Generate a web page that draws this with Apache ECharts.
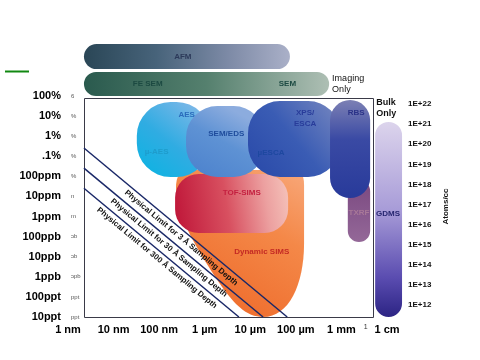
<!DOCTYPE html>
<html><head><meta charset="utf-8">
<script src="https://cdn.jsdelivr.net/npm/echarts@6/dist/echarts.min.js"></script>
<style>html,body{margin:0;padding:0;background:#fff}#c{width:480px;height:360px}</style>
</head><body><div id="c"></div>
<script>
// ---- axis ticks (log10 units) ----
const sizeTicks = [-9, -8, -7, -6, -5, -4, -3, -2.47, -2];
const sizeLabels = ['1 nm', '10 nm', '100 nm', '1 µm', '10 µm', '100 µm', '1 mm', '1', '1 cm'];
const concTicks = [0, -1, -2, -3, -4, -5, -6, -7, -8, -9, -10, -11];
const concLabels = ['100%', '10%', '1%', '.1%', '100ppm', '10ppm', '1ppm', '100ppb', '10ppb', '1ppb', '100ppt', '10ppt'];
const concFragments = ['6', '%', '%', '%', '%', 'n', 'm', 'ɔb', 'ɔb', 'ɔpb', 'ppt', 'ppt'];
const atomTicks = [22, 21, 20, 19, 18, 17, 16, 15, 14, 13, 12];
const atomLabels = ['1E+22', '1E+21', '1E+20', '1E+19', '1E+18', '1E+17', '1E+16', '1E+15', '1E+14', '1E+13', '1E+12'];
const atomShift = 22.4; // log atoms/cc at the 100% line of the chart

// ---- techniques: lateral resolution range (log m) x detection range (log fraction) ----
const techNames    = ['AFM', 'SEM', 'Dynamic SIMS', 'TOF-SIMS', 'AES', 'SEM/EDS', 'XPS/ESCA', 'TXRF', 'RBS', 'GDMS'];
const techSizeMin  = [-8.65, -8.65, -6.63, -6.65, -7.49, -6.41, -5.05, -2.86, -3.25, -2.26];
const techSizeMax  = [-4.13, -3.27, -3.82, -4.17, -5.88, -4.68, -3.03, -2.37, -2.37, -1.67];
const techConcMin  = [1.34, 0.00, -11.0, -6.82, -4.03, -4.03, -4.03, -7.27, -5.08, -11.0];
const techConcMax  = [2.59, 1.20, -3.68, -3.88, -0.30, -0.50, -0.25, -4.18, -0.20, -1.29];

// ---- physical limit lines ----
const limitNames = ['Physical Limit for 3 Å Sampling Depth', 'Physical Limit for 30 Å Sampling Depth', 'Physical Limit for 300 Å Sampling Depth'];
const limitStartSize = [-8.65, -8.65, -8.65];
const limitStartConc = [-2.59, -3.59, -4.59];
const limitEndSize = [-4.19, -4.72, -5.25];
const limitEndConc = [-11, -11, -11];

// ---- plot frame ----
const frameSize = [-8.65, -2.31];
const frameConc = [-11, -0.1];

// ================= styles =================
const G = echarts.graphic;
const FONT = '"Liberation Sans", Arial, sans-serif';
const techStyle = {
  'AFM': { shape: 'pill', fill: new G.LinearGradient(0, 0, 1, 0, [{offset: 0, color: '#2a4656'}, {offset: 0.35, color: '#47637a'}, {offset: 0.7, color: '#7d8aa6'}, {offset: 1, color: '#aab0c8'}]),
    labels: [{t: 'AFM', fx: 0.48, fy: 0.52, c: '#2c3a5a'}] },
  'SEM': { shape: 'pill', fill: new G.LinearGradient(0, 0, 1, 0, [{offset: 0, color: '#2a5a4e'}, {offset: 0.5, color: '#55806e'}, {offset: 1, color: '#aebfb4'}]),
    labels: [{t: 'FE SEM', fx: 0.26, fy: 0.5, c: '#1c4a42'}, {t: 'SEM', fx: 0.83, fy: 0.5, c: '#1c4a42'}],
    note: {t: 'Imaging\nOnly', side: 'right', weight: 'normal'} },
  'Dynamic SIMS': { shape: 'drop', fill: new G.LinearGradient(1, 0, 0.3, 1, [{offset: 0, color: '#f8a87a'}, {offset: 0.4, color: '#f48848'}, {offset: 1, color: '#ee6a2a'}]),
    labels: [{t: 'Dynamic SIMS', fx: 0.67, fy: 0.56, c: '#c42a24'}] },
  'TOF-SIMS': { shape: 'round', r: 0.4, fill: new G.LinearGradient(0, 0.6, 1, 0.3, [{offset: 0, color: '#c0183a'}, {offset: 0.45, color: '#d85060'}, {offset: 0.8, color: '#eca0a0'}, {offset: 1, color: '#f4c0b8'}]),
    labels: [{t: 'TOF-SIMS', fx: 0.59, fy: 0.32, c: '#c42040'}] },
  'AES': { shape: 'round', r: 0.46, fill: new G.LinearGradient(0, 1, 0.8, 0, [{offset: 0, color: '#08b4e2'}, {offset: 0.5, color: '#30ace2'}, {offset: 1, color: '#80b8e8'}]),
    labels: [{t: 'AES', fx: 0.68, fy: 0.17, c: '#2a6cbc'}, {t: 'µ-AES', fx: 0.27, fy: 0.67, c: '#1e9ccc'}] },
  'SEM/EDS': { shape: 'round', r: 0.44, fill: new G.LinearGradient(0, 1, 0.5, 0, [{offset: 0, color: '#4a80cc'}, {offset: 0.6, color: '#5e92d4'}, {offset: 1, color: '#8cacde'}]),
    labels: [{t: 'SEM/EDS', fx: 0.51, fy: 0.39, c: '#1e4c9c'}] },
  'XPS/ESCA': { shape: 'round', r: 0.42, fill: new G.LinearGradient(0, 1, 1, 0, [{offset: 0, color: '#2848a8'}, {offset: 0.5, color: '#3a5cb4'}, {offset: 1, color: '#7888c0'}]),
    labels: [{t: 'XPS/', fx: 0.62, fy: 0.16, c: '#283c9a'}, {t: 'ESCA', fx: 0.62, fy: 0.30, c: '#283c9a'}, {t: 'µESCA', fx: 0.25, fy: 0.68, c: '#1e48a0'}] },
  'TXRF': { shape: 'capsule', fill: new G.LinearGradient(0, 0, 0, 1, [{offset: 0, color: '#7a4880'}, {offset: 1, color: '#946898'}]),
    labels: [{t: 'TXRF', fx: 0.5, fy: 0.53, c: '#a87898'}] },
  'RBS': { shape: 'capsule', fill: new G.LinearGradient(0, 0, 0, 1, [{offset: 0, color: '#7c80b4'}, {offset: 0.4, color: '#3a4aa4'}, {offset: 1, color: '#283a9a'}]),
    labels: [{t: 'RBS', fx: 0.65, fy: 0.13, c: '#2a3288'}] },
  'GDMS': { shape: 'capsule', fill: new G.LinearGradient(0, 0, 0, 1, [{offset: 0, color: '#dcd4ec'}, {offset: 0.45, color: '#a89cd8'}, {offset: 0.8, color: '#5a4cb0'}, {offset: 1, color: '#2c2484'}]),
    labels: [{t: 'GDMS', fx: 0.48, fy: 0.47, c: '#262670'}],
    note: {t: 'Bulk\nOnly', side: 'top', weight: 'bold'} }
};
const DROP_PATH = 'M10,0 L92,0 Q100,0 100,10 L100,50 C100,78 88,100 68,100 C55,100 45,92 30,72 C15,52 0,30 0,12 Q0,0 10,0 Z';

function renderTech(params, api) {
  const name = techNames[params.dataIndex];
  const st = techStyle[name];
  const a = api.coord([api.value(0), api.value(3)]);
  const b = api.coord([api.value(1), api.value(2)]);
  const x = a[0], y = a[1], w = b[0] - a[0], h = b[1] - a[1];
  const children = [];
  let body;
  if (st.shape === 'drop') {
    body = {type: 'path', shape: {pathData: DROP_PATH, x: x, y: y, width: w, height: h, layout: 'cover'}};
  } else {
    let r;
    if (st.shape === 'pill') r = h / 2;
    else if (st.shape === 'capsule') r = w / 2;
    else r = st.r * Math.min(w, h);
    body = {type: 'rect', shape: {x: x, y: y, width: w, height: h, r: r}};
  }
  body.style = {fill: st.fill};
  body.z2 = params.dataIndex;
  children.push(body);
  st.labels.forEach(function (l) {
    children.push({type: 'text', z2: 100, style: {text: l.t, x: x + l.fx * w, y: y + l.fy * h, fill: l.c,
      font: 'bold 8px ' + FONT, align: 'center', verticalAlign: 'middle'}});
  });
  if (st.note) {
    const n = st.note;
    const s = {text: n.t, fill: '#111', font: n.weight + ' 9px ' + FONT, lineHeight: 11};
    if (n.side === 'right') { s.x = x + w + 3; s.y = y + h / 2; s.align = 'left'; s.verticalAlign = 'middle'; }
    else { s.x = x + 1; s.y = y - 3; s.align = 'left'; s.verticalAlign = 'bottom'; }
    children.push({type: 'text', z2: 100, style: s});
  }
  return {type: 'group', children: children};
}

function renderFrame(params, api) {
  const a = api.coord([api.value(0), api.value(3)]);
  const b = api.coord([api.value(1), api.value(2)]);
  return {type: 'rect', shape: {x: Math.round(a[0]) + 0.5, y: Math.round(a[1]) + 0.5, width: Math.round(b[0] - a[0]), height: Math.round(b[1] - a[1])},
    style: {fill: 'none', stroke: '#3a3a48', lineWidth: 1}};
}

function pick(ticks, labels) {
  return function (v) {
    for (let i = 0; i < ticks.length; i++) if (Math.abs(ticks[i] - v) < 1e-6) return labels[i];
    return '';
  };
}

const chart = echarts.init(document.getElementById('c'), null, {renderer: 'canvas'});
chart.setOption({
  animation: false,
  backgroundColor: '#fff',
  grid: {left: 68, right: 93, top: 96, bottom: 43, containLabel: false},
  xAxis: {
    type: 'value', min: -9, max: -2,
    axisLine: {show: false}, axisTick: {show: false}, splitLine: {show: false},
    axisLabel: {customValues: sizeTicks, margin: 7, fontSize: 11, fontWeight: 'bold', color: '#000', fontFamily: FONT,
      hideOverlap: false,
      formatter: function (v) { const t = pick(sizeTicks, sizeLabels)(v); return t === '1' ? '{s|1}' : t; },
      rich: {s: {fontSize: 7, fontWeight: 'normal', color: '#333', fontFamily: FONT}}}
  },
  yAxis: [
    {type: 'value', min: -11, max: 0, position: 'left',
      axisLine: {show: false}, axisTick: {show: false}, splitLine: {show: false},
      axisLabel: {customValues: concTicks, formatter: pick(concTicks, concLabels), margin: 7, fontSize: 11, fontWeight: 'bold', color: '#000', fontFamily: FONT}},
    {type: 'value', min: -11, max: 0, position: 'left',
      axisLine: {show: false}, axisTick: {show: false}, splitLine: {show: false},
      axisLabel: {customValues: concTicks, formatter: pick(concTicks, concFragments), inside: true, margin: 3, fontSize: 6, color: '#555', fontFamily: FONT}},
    {type: 'value', min: atomShift - 11, max: atomShift, position: 'right',
      axisLine: {show: false}, axisTick: {show: false}, splitLine: {show: false},
      axisLabel: {customValues: atomTicks, formatter: pick(atomTicks, atomLabels), margin: 21, fontSize: 8, fontWeight: 'bold', color: '#111', fontFamily: FONT},
      name: 'Atoms/cc', nameLocation: 'middle', nameRotate: 90, nameGap: 54,
      nameTextStyle: {fontSize: 8, fontWeight: 'bold', color: '#111', fontFamily: FONT}}
  ],
  graphic: [
    {type: 'line', shape: {x1: 5, y1: 71.5, x2: 29, y2: 71.5}, style: {stroke: '#118811', lineWidth: 2}}
  ],
  series: [
    {type: 'custom', name: 'techniques', xAxisIndex: 0, yAxisIndex: 0, clip: false, silent: true, z: 2,
      encode: {x: [0, 1], y: [2, 3]},
      renderItem: renderTech,
      data: techNames.map(function (n, i) { return [techSizeMin[i], techSizeMax[i], techConcMin[i], techConcMax[i]]; })},
    {type: 'custom', name: 'frame', xAxisIndex: 0, yAxisIndex: 0, clip: false, silent: true, z: 3,
      encode: {x: [0, 1], y: [2, 3]},
      renderItem: renderFrame,
      data: [[frameSize[0], frameSize[1], frameConc[0], frameConc[1]]]},
    {type: 'line', name: 'limits', xAxisIndex: 0, yAxisIndex: 0, data: [], z: 5, silent: true,
      markLine: {symbol: ['none', 'none'], silent: true, animation: false,
        lineStyle: {color: '#1a2868', width: 1.5, type: 'solid'},
        label: {show: true, position: 'insideMiddleBottom', fontSize: 8, fontWeight: 'bold', color: '#111', fontFamily: FONT, distance: 3},
        data: limitNames.map(function (n, i) {
          return [{coord: [limitStartSize[i], limitStartConc[i]], label: {formatter: n}},
                  {coord: [limitEndSize[i], limitEndConc[i]]}];
        })}}
  ]
});
</script></body></html>
